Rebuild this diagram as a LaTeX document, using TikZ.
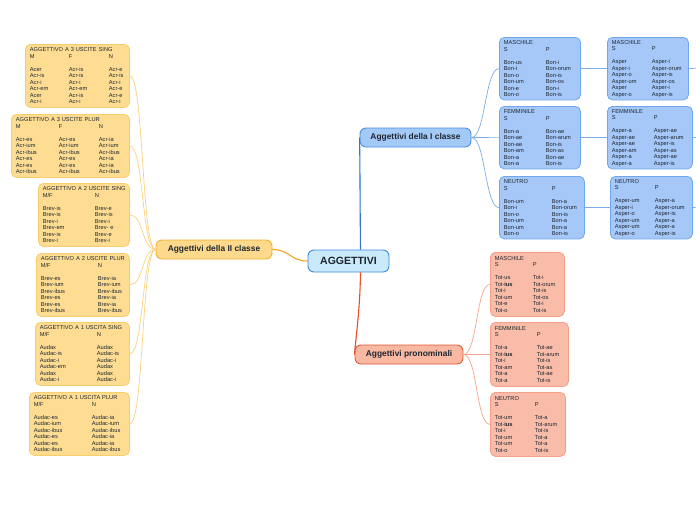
\documentclass[tikz,border=0pt]{standalone}
\usepackage{fontspec}
\newfontfamily\bx{Liberation Sans}
\usetikzlibrary{calc}
\newlength\cwa \newlength\cwb
\newcommand\tri[3]{\makebox[\cwa][l]{#1}\makebox[\cwb][l]{#2}#3}
\newcommand\duo[2]{\makebox[\cwa][l]{#1}#2}
\newcommand\hd[1]{\mbox{#1}}
\definecolor{textc}{HTML}{1E2530}
\definecolor{cfill}{HTML}{C8EAFB}\definecolor{cdraw}{HTML}{3C8BDB}
\definecolor{icfill}{HTML}{A3C9F7}\definecolor{icdraw}{HTML}{4A8FE0}
\definecolor{bfill}{HTML}{A5C8F8}\definecolor{bdraw}{HTML}{6FA6EC}
\definecolor{iifill}{HTML}{FDD98B}\definecolor{iidraw}{HTML}{F4B135}
\definecolor{yfill}{HTML}{FEDD92}\definecolor{ydraw}{HTML}{F7CD6E}
\definecolor{prfill}{HTML}{F8B8A2}\definecolor{prdraw}{HTML}{E45A36}
\definecolor{sfill}{HTML}{F9BCA8}\definecolor{sdraw}{HTML}{F3A08A}
\definecolor{bmain}{HTML}{2F74CF}\definecolor{omain}{HTML}{F5A21F}\definecolor{rmain}{HTML}{E44F26}
\definecolor{blink}{HTML}{7EAEE6}\definecolor{ylink}{HTML}{FAD27E}\definecolor{slink}{HTML}{F5A48E}
\tikzset{
  leaf/.style={rounded corners=5pt, line width=0.8pt, anchor=north west, inner xsep=4.5pt, inner ysep=0pt,
    align=left, font=\bx\fontsize{5.7}{6.5}\selectfont, text=textc},
  ybox/.style={leaf, draw=ydraw, fill=yfill, minimum height=63pt},
  bbox/.style={leaf, draw=bdraw, fill=bfill, minimum height=62.5pt},
  sbox/.style={leaf, draw=sdraw, fill=sfill, minimum height=64pt},
  topic/.style={rounded corners=6pt, line width=0.9pt, font=\bx\bfseries\fontsize{8.4}{10}\selectfont, text=textc, inner sep=0pt},
  ylk/.style={draw=ylink, line width=0.7pt},
  blk/.style={draw=blink, line width=0.7pt},
  slk/.style={draw=slink, line width=0.7pt},
}
\begin{document}
\begin{tikzpicture}[x=1pt,y=-1pt]
\fill[white] (0,0) rectangle (696,520);
\useasboundingbox (0,0) rectangle (696,520);
% central and topics
\node[topic, draw=cdraw, fill=cfill, minimum width=81pt, minimum height=22pt, font=\bx\bfseries\fontsize{10.5}{12}\selectfont] (c) at (348.5,261) {AGGETTIVI};
\node[topic, draw=icdraw, fill=icfill, minimum width=111pt, minimum height=19pt] (ic) at (415.5,137.5) {Aggettivi della I classe};
\node[topic, draw=iidraw, fill=iifill, minimum width=116pt, minimum height=19pt] (ii) at (214,249.5) {Aggettivi della II classe};
\node[topic, draw=prdraw, fill=prfill, minimum width=108pt, minimum height=19pt] (pr) at (409,354.5) {Aggettivi pronominali};
% left boxes
\node[ybox, text width=95pt] (l1) at (25,44) {\setlength\cwa{39pt}\setlength\cwb{40pt}\hd{AGGETTIVO A 3 USCITE SING}\\ \tri{M}{F}{N}\\[6.5pt]
\tri{Acer}{Acr-is}{Acr-e}\\ \tri{Acr-is}{Acr-is}{Acr-is}\\ \tri{Acr-i}{Acr-i}{Acr-i}\\ \tri{Acr-em}{Acr-em}{Acr-e}\\ \tri{Acer}{Acr-is}{Acr-e}\\ \tri{Acr-i}{Acr-i}{Acr-i}};
\node[ybox, text width=109pt] (l2) at (11,114) {\setlength\cwa{43pt}\setlength\cwb{40pt}\hd{AGGETTIVO A 3 USCITE PLUR}\\ \tri{M}{F}{N}\\[6.5pt]
\tri{Acr-es}{Acr-es}{Acr-ia}\\ \tri{Acr-ium}{Acr-ium}{Acr-ium}\\ \tri{Acr-ibus}{Acr-ibus}{Acr-ibus}\\ \tri{Acr-es}{Acr-es}{Acr-ia}\\ \tri{Acr-es}{Acr-es}{Acr-ia}\\ \tri{Acr-ibus}{Acr-ibus}{Acr-ibus}};
\node[ybox, text width=82pt] (l3) at (38,183) {\setlength\cwa{52pt}\hd{AGGETTIVO A 2 USCITE SING}\\ \duo{M/F}{N}\\[6.5pt]
\duo{Brev-is}{Brev-e}\\ \duo{Brev-is}{Brev-is}\\ \duo{Brev-i}{Brev-i}\\ \duo{Brev-em}{Brev- e}\\ \duo{Brev-is}{Brev-e}\\ \duo{Brev-i}{Brev-i}};
\node[ybox, text width=84pt] (l4) at (36,253) {\setlength\cwa{57pt}\hd{AGGETTIVO A 2 USCITE PLUR}\\ \duo{M/F}{N}\\[6.5pt]
\duo{Brev-es}{Brev-ia}\\ \duo{Brev-ium}{Brev-ium}\\ \duo{Brev-ibus}{Brev-ibus}\\ \duo{Brev-es}{Brev-ia}\\ \duo{Brev-es}{Brev-ia}\\ \duo{Brev-ibus}{Brev-ibus}};
\node[ybox, text width=85pt] (l5) at (35,322) {\setlength\cwa{57pt}\hd{AGGETTIVO A 1 USCITA SING}\\ \duo{M/F}{N}\\[6.5pt]
\duo{Audax}{Audax}\\ \duo{Audac-is}{Audac-is}\\ \duo{Audac-i}{Audac-i}\\ \duo{Audac-em}{Audax}\\ \duo{Audax}{Audax}\\ \duo{Audac-i}{Audac-i}};
\node[ybox, text width=91pt] (l6) at (29,392) {\setlength\cwa{58pt}\hd{AGGETTIVO A 1 USCITA PLUR}\\ \duo{M/F}{N}\\[6.5pt]
\duo{Audac-es}{Audac-ia}\\ \duo{Audac-ium}{Audac-ium}\\ \duo{Audac-ibus}{Audac-ibus}\\ \duo{Audac-es}{Audac-ia}\\ \duo{Audac-es}{Audac-ia}\\ \duo{Audac-ibus}{Audac-ibus}};
% blue boxes col 1
\node[bbox, text width=72pt] (b1) at (499,37) {\setlength\cwa{42pt}MASCHILE\\ \duo{S}{P}\\[6.5pt]
\duo{Bon-us}{Bon-i}\\ \duo{Bon-i}{Bon-orum}\\ \duo{Bon-o}{Bon-is}\\ \duo{Bon-um}{Bon-os}\\ \duo{Bon-e}{Bon-i}\\ \duo{Bon-o}{Bon-is}};
\node[bbox, text width=72pt] (b2) at (499,106) {\setlength\cwa{42pt}FEMMINILE\\ \duo{S}{P}\\[6.5pt]
\duo{Bon-a}{Bon-ae}\\ \duo{Bon-ae}{Bon-arum}\\ \duo{Bon-ae}{Bon-is}\\ \duo{Bon-am}{Bon-as}\\ \duo{Bon-a}{Bon-ae}\\ \duo{Bon-a}{Bon-is}};
\node[bbox, text width=76pt] (b3) at (499,176) {\setlength\cwa{48pt}NEUTRO\\ \duo{S}{P}\\[6.5pt]
\duo{Bon-um}{Bon-a}\\ \duo{Bon-i}{Bon-orum}\\ \duo{Bon-o}{Bon-is}\\ \duo{Bon-um}{Bon-a}\\ \duo{Bon-um}{Bon-a}\\ \duo{Bon-o}{Bon-is}};
% blue boxes col 2
\node[bbox, text width=72pt] (c1) at (607,37) {\setlength\cwa{40pt}MASCHILE\\ \duo{S}{P}\\[6.5pt]
\duo{Asper}{Asper-i}\\ \duo{Asper-i}{Asper-orum}\\ \duo{Asper-o}{Asper-is}\\ \duo{Asper-um}{Asper-os}\\ \duo{Asper}{Asper-i}\\ \duo{Asper-o}{Asper-is}};
\node[bbox, text width=76pt] (c2) at (607,106) {\setlength\cwa{42pt}FEMMINILE\\ \duo{S}{P}\\[6.5pt]
\duo{Asper-a}{Asper-ae}\\ \duo{Asper-ae}{Asper-arum}\\ \duo{Asper-ae}{Asper-is}\\ \duo{Asper-am}{Asper-as}\\ \duo{Asper-a}{Asper-ae}\\ \duo{Asper-a}{Asper-is}};
\node[bbox, text width=73pt] (c3) at (610,176) {\setlength\cwa{40pt}NEUTRO\\ \duo{S}{P}\\[6.5pt]
\duo{Asper-um}{Asper-a}\\ \duo{Asper-i}{Asper-orum}\\ \duo{Asper-o}{Asper-is}\\ \duo{Asper-um}{Asper-a}\\ \duo{Asper-um}{Asper-a}\\ \duo{Asper-o}{Asper-is}};
% salmon boxes
\node[sbox, text width=65pt] (s1) at (490,252) {\setlength\cwa{38pt}MASCHILE\\ \duo{S}{P}\\[6.5pt]
\duo{Tot-us}{Tot-i}\\ \duo{Tot-\textbf{ius}}{Tot-orum}\\ \duo{Tot-i}{Tot-is}\\ \duo{Tot-um}{Tot-os}\\ \duo{Tot-e}{Tot-i}\\ \duo{Tot-o}{Tot-is}};
\node[sbox, text width=69pt] (s2) at (490,322) {\setlength\cwa{42pt}FEMMINILE\\ \duo{S}{P}\\[6.5pt]
\duo{Tot-a}{Tot-ae}\\ \duo{Tot-\textbf{ius}}{Tot-arum}\\ \duo{Tot-i}{Tot-is}\\ \duo{Tot-am}{Tot-as}\\ \duo{Tot-a}{Tot-ae}\\ \duo{Tot-a}{Tot-is}};
\node[sbox, text width=66pt] (s3) at (490,392) {\setlength\cwa{40pt}NEUTRO\\ \duo{S}{P}\\[6.5pt]
\duo{Tot-um}{Tot-a}\\ \duo{Tot-\textbf{ius}}{Tot-arum}\\ \duo{Tot-i}{Tot-is}\\ \duo{Tot-um}{Tot-a}\\ \duo{Tot-um}{Tot-a}\\ \duo{Tot-o}{Tot-is}};
% main connectors
\draw[bmain, line width=1.1pt] ($(c.north)+(12,0)$) .. controls (360,200) and (360,160) .. (ic.west);
\draw[omain, line width=1.1pt] (c.west) .. controls (290,261) and (290,249.5) .. (ii.east);
\draw[rmain, line width=1.1pt] ($(c.south)+(12,0)$) .. controls (360,310) and (356,335) .. (pr.west);
% sub connectors
\foreach \b in {b1,b2,b3}{\draw[blk] (ic.east) .. controls +(14,0) and +(-14,0) .. (\b.west);}
\draw[blk] (b1.east) -- (c1.west);
\draw[blk] (b2.east) -- (c2.west);
\draw[blk] (b3.east) -- (c3.west);
\coordinate (e1) at (696,68.25);
\coordinate (e2) at (696,137.5);
\coordinate (e3) at (696,207.25);
\draw[blk] (c1.east) -- (e1);
\draw[blk] (c2.east) -- (e2);
\draw[blk] (c3.east) -- (e3);
\foreach \l in {l1,l2,l3,l4,l5,l6}{\draw[ylk] (ii.west) .. controls +(-14,0) and +(14,0) .. (\l.east);}
\foreach \s in {s1,s2,s3}{\draw[slk] (pr.east) .. controls +(14,0) and +(-14,0) .. (\s.west);}
\end{tikzpicture}
\end{document}
